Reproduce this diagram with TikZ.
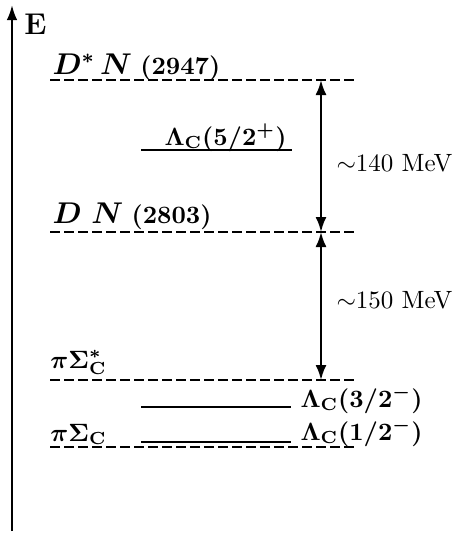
\documentclass[tikz,border=0pt]{standalone}
\usepackage{bm}
\usetikzlibrary{arrows.meta}
\begin{document}
\begin{tikzpicture}[x=0.4pt,y=-0.4pt,
  lev/.style={line width=0.85pt},
  dlev/.style={line width=0.9pt,dash pattern=on 3.8pt off 1.8pt},
  lab/.style={inner sep=0pt,anchor=base west},
  tip/.style={-{Latex[length=6pt,width=4.2pt]},line width=0.85pt},
  dtip/.style={{Latex[length=6pt,width=4.4pt]}-{Latex[length=6pt,width=4.4pt]},line width=0.85pt}]
\useasboundingbox (0,0) rectangle (462,534);
% axis
\coordinate (ax0) at (12,531);
\coordinate (ax1) at (12,5);
\draw[tip] (ax0) -- (ax1);
\node[lab] (E) at (24,34) {\large\textbf{E}};
% levels
\coordinate (a1) at (50,80);  \coordinate (a2) at (354,80);
\coordinate (b1) at (50,232); \coordinate (b2) at (354,232);
\coordinate (c1) at (50,380); \coordinate (c2) at (354,380);
\coordinate (d1) at (50,447); \coordinate (d2) at (354,447);
\draw[dlev] (a1) -- (a2);
\draw[dlev] (b1) -- (b2);
\draw[dlev] (c1) -- (c2);
\draw[dlev] (d1) -- (d2);
\node[lab] (DsN) at (52,74) {{\large$\bm{D^{*}\,N}$}\ \textbf{(2947)}};
\node[lab] (DN) at (52,223) {{\large$\bm{D\ N}$}\ \textbf{(2803)}};
\node[lab] (piSs) at (50,368) {$\bm{\pi\Sigma^{*}_{\mathbf{C}}}$};
\node[lab] (piS) at (50,441) {$\bm{\pi\Sigma_{\mathbf{C}}}$};
% Lambda_c levels
\coordinate (l1a) at (141,150); \coordinate (l1b) at (292,150);
\coordinate (l2a) at (141,407); \coordinate (l2b) at (291,407);
\coordinate (l3a) at (141,442); \coordinate (l3b) at (291,442);
\draw[lev] (l1a) -- (l1b);
\draw[lev] (l2a) -- (l2b);
\draw[lev] (l3a) -- (l3b);
\node[lab] (L52) at (164,145) {$\bm{\Lambda_{\mathbf{C}}(5/2^{+})}$};
\node[lab] (L32) at (300,407) {$\bm{\Lambda_{\mathbf{C}}(3/2^{-})}$};
\node[lab] (L12) at (300,440) {$\bm{\Lambda_{\mathbf{C}}(1/2^{-})}$};
% arrows
\coordinate (p1) at (321,80);
\coordinate (p2) at (321,232);
\coordinate (p3) at (321,380);
\draw[dtip] (p1) -- (p2);
\draw[dtip] (p2) -- (p3);
\node[lab,anchor=west] (m1) at (336,163) {$\sim$140 MeV};
\node[lab,anchor=west] (m2) at (336,300) {$\sim$150 MeV};
\end{tikzpicture}
\end{document}
